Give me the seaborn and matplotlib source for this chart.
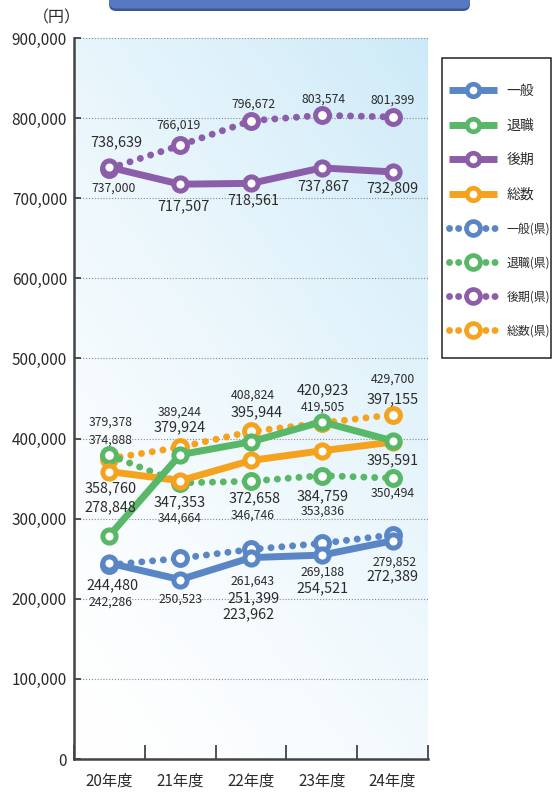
import numpy as np
import pandas as pd
import matplotlib
matplotlib.use("Agg")
import matplotlib.pyplot as plt
import seaborn as sns
from matplotlib.lines import Line2D
from matplotlib.patches import FancyBboxPatch, Rectangle

# ---------------- data ----------------
years = ["20年度", "21年度", "22年度", "23年度", "24年度"]
ippan = [244480, 223962, 251399, 254521, 272389]
taishoku = [278848, 379924, 395944, 420923, 397155]
kouki = [738639, 717507, 718561, 737867, 732809]
sousu = [358760, 347353, 372658, 384759, 395591]
ippan_ken = [242286, 250523, 261643, 269188, 279852]
taishoku_ken = [379378, 344664, 346746, 353836, 350494]
kouki_ken = [737000, 766019, 796672, 803574, 801399]
sousu_ken = [374888, 389244, 408824, 419505, 429700]
series_names = ["一般", "退職", "後期", "総数", "一般(県)", "退職(県)", "後期(県)", "総数(県)"]
y_ticks = [0, 100000, 200000, 300000, 400000, 500000, 600000, 700000, 800000, 900000]
unit_label = "（円）"

# ---------------- style ----------------
sns.set_style("white")
plt.rcParams["font.family"] = ["Noto Sans CJK JP", "DejaVu Sans"]

C_BLUE = "#5a86c6"
C_GREEN = "#58b867"
C_PURPLE = "#8c5ea9"
C_ORANGE = "#f5a31e"
TXT = "#2b2b2b"

series = {
    "一般": (ippan, C_BLUE, False),
    "退職": (taishoku, C_GREEN, False),
    "後期": (kouki, C_PURPLE, False),
    "総数": (sousu, C_ORANGE, False),
    "一般(県)": (ippan_ken, C_BLUE, True),
    "退職(県)": (taishoku_ken, C_GREEN, True),
    "後期(県)": (kouki_ken, C_PURPLE, True),
    "総数(県)": (sousu_ken, C_ORANGE, True),
}

# label offsets in pixels (layout only)
label_offsets = {
    "後期": [(7, 25), (3, -22), (2, -17), (1, -18), (0, -16)],
    "後期(県)": [(4, -20), (-2, 20), (2, 17), (2, 16), (0, 17)],
    "退職": [(1, 28), (-1, 27), (6, 30), (1, 31), (0, 42)],
    "退職(県)": [(1, 33), (-1, -35), (2, -34), (1, -36), (0, -15)],
    "総数": [(1, -17), (-1, -22), (4, -38), (1, -46), (0, -18)],
    "総数(県)": [(1, 19), (-1, 35), (2, 36), (1, 16), (0, 36)],
    "一般": [(3, -22), (68, -35), (3, -41), (1, -33), (0, -36)],
    "一般(県)": [(1, -37), (0, -41), (2, -32), (1, -29), (2, -27)],
}

W, H = 553, 792
fig = plt.figure(figsize=(W / 100, H / 100), dpi=100)
fig.patch.set_facecolor("white")

# overlay for decorations (pixel coords)
ov = fig.add_axes([0, 0, 1, 1], zorder=-5)
ov.set_xlim(0, W)
ov.set_ylim(H, 0)
ov.axis("off")
ov.add_patch(FancyBboxPatch((109, -20), 361, 31, boxstyle="round,pad=0,rounding_size=7",
                            fc="#3a5896", ec="none"))
ov.add_patch(FancyBboxPatch((109, -20), 361, 28.5, boxstyle="round,pad=0,rounding_size=7",
                            fc="#5679c1", ec="none"))
ov.text(57, 18, unit_label, ha="center", va="center", fontsize=11.5, color=TXT)
ov.add_patch(Rectangle((442, 58), 109, 300, fill=False, ec="#222222", lw=1.1))

ax = fig.add_axes([74 / W, 1 - 759 / H, 354 / W, 721 / H])

# gradient background
n = 200
u = np.linspace(0, 1, n)[None, :]
v = np.linspace(0, 1, n)[:, None]
w = np.clip(0.6 * v + 0.4 * u, 0, 1) ** 1.5
c0 = np.array([255, 255, 255]) / 255
c1 = np.array([205, 234, 248]) / 255
grad = c0[None, None, :] * (1 - w[..., None]) + c1[None, None, :] * w[..., None]
ax.imshow(grad, extent=[-0.5, 4.5, 0, 900000], origin="lower", aspect="auto",
          zorder=-2, interpolation="bilinear")

ax.set_axisbelow(True)
ax.yaxis.grid(True, linestyle=(0, (1, 1.6)), color="#8a8a8a", lw=0.8)
ax.xaxis.grid(False)

draw_order = ["総数(県)", "退職(県)", "一般(県)", "後期(県)", "総数", "一般", "退職", "後期"]
xs = np.arange(len(years))
for name in draw_order:
    vals, col, dotted = series[name]
    df = pd.DataFrame({"x": xs, "y": vals})
    ls = (0, (0.01, 1.55)) if dotted else "-"
    sns.lineplot(data=df, x="x", y="y", ax=ax, color=col, lw=5, linestyle=ls,
                 marker="o", markersize=10 if dotted else 9.5, markerfacecolor="white",
                 markeredgecolor=col, markeredgewidth=3.6,
                 dash_capstyle="round", solid_capstyle="round", zorder=3)

# data labels
for name, (vals, col, dotted) in series.items():
    fs = 8.8 if dotted else 10.4
    for i, v_ in enumerate(vals):
        dx, dy = label_offsets[name][i]
        ax.annotate(f"{v_:,}", (xs[i], v_), xytext=(dx, dy), textcoords="offset pixels",
                    ha="center", va="center", fontsize=fs, color=TXT, zorder=5)

ax.set_xlim(-0.5, 4.5)
ax.set_ylim(0, 900000)
ax.set_xlabel("")
ax.set_ylabel("")

for s in ["top", "right"]:
    ax.spines[s].set_visible(False)
for s in ["left", "bottom"]:
    ax.spines[s].set_color("#444444")
    ax.spines[s].set_linewidth(1.8)

ax.set_yticks(y_ticks)
ax.set_yticklabels([f"{t:,}" for t in y_ticks])
ax.tick_params(axis="y", direction="in", length=5, width=1.3, color="#444444",
               pad=5, labelsize=11, labelcolor=TXT, left=True)

ax.set_xticks(np.arange(-0.5, 5.0, 1.0))
ax.set_xticklabels([])
ax.set_xticks(xs, minor=True)
ax.set_xticklabels(years, minor=True)
ax.tick_params(axis="x", which="major", direction="in", length=10, width=1.3,
               color="#444444", bottom=True)
ax.tick_params(axis="x", which="minor", length=0, pad=10, labelsize=11, labelcolor=TXT)

# legend
handles = []
for name in series_names:
    vals, col, dotted = series[name]
    if dotted:
        h = Line2D([], [], color=col, lw=5, linestyle=(0, (0.01, 1.3)), dash_capstyle="round",
                   marker="o", markersize=10, markerfacecolor="white", markeredgecolor=col,
                   markeredgewidth=3.4)
    else:
        h = Line2D([], [], color=col, lw=5, marker="o", markersize=9, markerfacecolor="white",
                   markeredgecolor=col, markeredgewidth=3.4, solid_capstyle="butt")
    handles.append(h)
leg = fig.legend(handles, series_names, loc="center left",
                 bbox_to_anchor=(449 / W, 1 - 210.5 / H), bbox_transform=fig.transFigure,
                 frameon=False, borderpad=0, borderaxespad=0, fontsize=10,
                 handlelength=3.45, handletextpad=0.7, labelspacing=1.5, numpoints=1)
for i, t in enumerate(leg.get_texts()):
    t.set_color(TXT)
    if i >= 4:
        t.set_fontsize(8.6)

fig.savefig("out.png", dpi=100)
